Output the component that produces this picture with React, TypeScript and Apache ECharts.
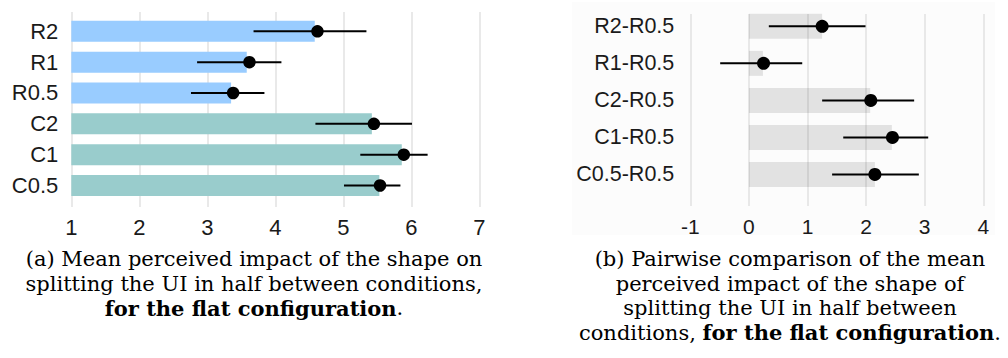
import React, { useEffect, useRef } from "react";
import * as echarts from "echarts";

// ---- Panel (a): mean perceived impact ----
const condCats = ["R2", "R1", "R0.5", "C2", "C1", "C0.5"];
const condMeans = [4.58, 3.58, 3.35, 5.42, 5.86, 5.53];
const condPoints = [4.62, 3.62, 3.38, 5.45, 5.89, 5.54];
const condLo = [3.68, 2.85, 2.76, 4.59, 5.25, 5.01];
const condHi = [5.34, 4.09, 3.84, 6.01, 6.24, 5.84];
const condGroup = ["R", "R", "R", "C", "C", "C"];
const condTicks = [1, 2, 3, 4, 5, 6, 7];

// ---- Panel (b): pairwise comparisons ----
const pairCats = ["R2-R0.5", "R1-R0.5", "C2-R0.5", "C1-R0.5", "C0.5-R0.5"];
const pairMeans = [1.25, 0.24, 2.07, 2.44, 2.15];
const pairPoints = [1.25, 0.25, 2.08, 2.45, 2.15];
const pairLo = [0.34, -0.49, 1.25, 1.61, 1.42];
const pairHi = [1.99, 0.91, 2.82, 3.06, 2.9];
const pairTicks = [-1, 0, 1, 2, 3, 4];

const captionA = [
  "(a) Mean perceived impact of the shape on",
  "splitting the UI in half between conditions,",
  "{b|for the flat configuration}.",
];
const captionB = [
  "(b) Pairwise comparison of the mean",
  "perceived impact of the shape of",
  "splitting the UI in half between",
  "conditions, {b|for the flat configuration}.",
];

const SANS = "'Liberation Sans', Arial, sans-serif";
const SERIF = "'DejaVu Serif', serif";

function errRender(params: any, api: any) {
  const c = api.value(0);
  const lo = api.value(1);
  const hi = api.value(2);
  const p1 = api.coord([lo, c]);
  const p2 = api.coord([hi, c]);
  return {
    type: "line",
    shape: { x1: p1[0], y1: p1[1], x2: p2[0], y2: p2[1] },
    style: { stroke: "#000", lineWidth: 2 },
  };
}

export default function App() {
  const ref = useRef<HTMLDivElement>(null);
  useEffect(() => {
    if (!ref.current) return;
    const chart = echarts.init(ref.current, undefined, { renderer: "svg" });

    const colA = (g: string) => (g === "R" ? "#99ccff" : "#99cccc");

    const captionEls: any[] = [];
    const lineYs = [259, 283.5, 308, 332.5];
    const rich = {
      b: { fontFamily: SERIF, fontSize: 21, fontWeight: "bold", fill: "#000" },
    };
    const mk = (t: string, x: number, y: number) => ({
      type: "text",
      x,
      y,
      style: {
        text: t,
        font: `21px ${SERIF}`,
        fill: "#000",
        align: "center",
        verticalAlign: "middle",
        rich,
      },
    });
    captionA.forEach((t, i) => captionEls.push(mk(t, 254, lineYs[i])));
    captionB.forEach((t, i) => captionEls.push(mk(t, 790, lineYs[i])));

    const hiddenAxis = {
      show: false,
      splitLine: { show: false },
    };

    chart.setOption({
      animation: false,
      backgroundColor: "#fff",
      graphic: {
        elements: [
          {
            type: "rect",
            z: -10,
            shape: { x: 572, y: 2, width: 423, height: 233 },
            style: { fill: "#fcfcfc" },
            silent: true,
          },
          ...captionEls,
        ],
      },
      grid: [
        { left: 71.3, width: 408, top: 12, height: 195 },
        { left: 71.3, width: 408, top: 15.9, height: 185 },
        { left: 690.3, width: 293, top: 14, height: 192 },
        { left: 690.3, width: 293, top: 7.8, height: 185.2 },
      ],
      xAxis: [
        {
          gridIndex: 0,
          type: "value",
          min: condTicks[0],
          max: condTicks[condTicks.length - 1],
          interval: 1,
          axisLine: { show: false },
          axisTick: { show: false },
          splitLine: { show: true, lineStyle: { color: "#e2e2e2", width: 1.5 } },
          axisLabel: { fontFamily: SANS, fontSize: 22, color: "#1a1a1a", margin: 9 },
        },
        { gridIndex: 1, type: "value", min: 1, max: 7, ...hiddenAxis },
        {
          gridIndex: 2,
          type: "value",
          min: pairTicks[0],
          max: pairTicks[pairTicks.length - 1],
          interval: 1,
          axisLine: { show: false },
          axisTick: { show: false },
          splitLine: { show: true, lineStyle: { color: "#e2e2e2", width: 1.5 } },
          axisLabel: { fontFamily: SANS, fontSize: 21, color: "#1a1a1a", margin: 10 },
        },
        { gridIndex: 3, type: "value", min: -1, max: 4, ...hiddenAxis },
      ],
      yAxis: [
        { gridIndex: 0, type: "value", min: 0, max: 1, ...hiddenAxis },
        {
          gridIndex: 1,
          type: "category",
          inverse: true,
          data: condCats,
          axisLine: { show: false },
          axisTick: { show: false },
          splitLine: { show: false },
          axisLabel: { fontFamily: SANS, fontSize: 22, color: "#1a1a1a", margin: 13 },
        },
        { gridIndex: 2, type: "value", min: 0, max: 1, ...hiddenAxis },
        {
          gridIndex: 3,
          type: "category",
          inverse: true,
          data: pairCats,
          axisLine: { show: false },
          axisTick: { show: false },
          splitLine: { show: false },
          axisLabel: { fontFamily: SANS, fontSize: 21.5, color: "#1a1a1a", margin: 16 },
        },
      ],
      series: [
        {
          type: "bar",
          xAxisIndex: 1,
          yAxisIndex: 1,
          barWidth: 21,
          clip: true,
          data: condMeans.map((v, i) => ({
            value: v,
            itemStyle: { color: colA(condGroup[i]) },
          })),
        },
        {
          type: "custom",
          xAxisIndex: 1,
          yAxisIndex: 1,
          renderItem: errRender,
          encode: { x: [1, 2], y: 0 },
          data: condCats.map((_, i) => [i, condLo[i], condHi[i]]),
          z: 3,
        },
        {
          type: "scatter",
          xAxisIndex: 1,
          yAxisIndex: 1,
          symbolSize: 12.5,
          itemStyle: { color: "#000", opacity: 1 },
          data: condCats.map((_, i) => [condPoints[i], i]),
          z: 4,
        },
        {
          type: "bar",
          xAxisIndex: 3,
          yAxisIndex: 3,
          barWidth: 25,
          clip: true,
          itemStyle: { color: "rgba(0,0,0,0.1)" },
          data: pairMeans,
        },
        {
          type: "custom",
          xAxisIndex: 3,
          yAxisIndex: 3,
          renderItem: errRender,
          encode: { x: [1, 2], y: 0 },
          data: pairCats.map((_, i) => [i, pairLo[i], pairHi[i]]),
          z: 3,
        },
        {
          type: "scatter",
          xAxisIndex: 3,
          yAxisIndex: 3,
          symbolSize: 13,
          itemStyle: { color: "#000", opacity: 1 },
          data: pairCats.map((_, i) => [pairPoints[i], i]),
          z: 4,
        },
      ],
    });
    return () => chart.dispose();
  }, []);
  return <div ref={ref} style={{ width: 1008, height: 358, position: "absolute", left: 0, top: 0 }} />;
}
